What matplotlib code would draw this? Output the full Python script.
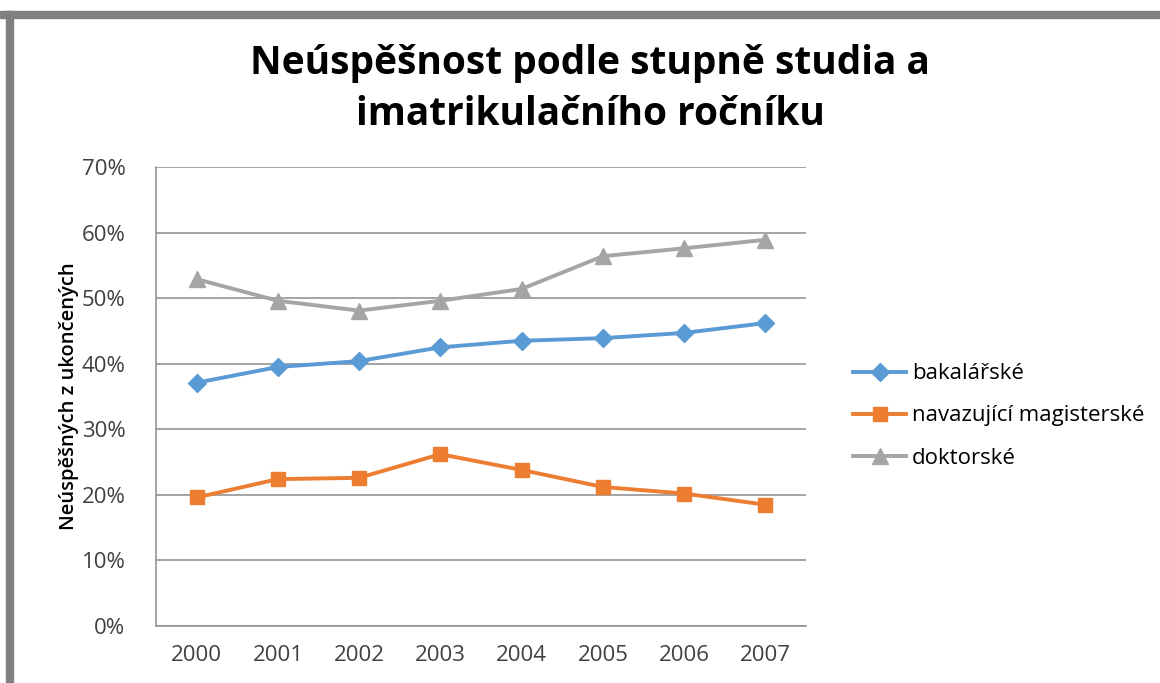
import matplotlib
matplotlib.use("Agg")
import matplotlib.pyplot as plt
from matplotlib.patches import Rectangle
from matplotlib.ticker import PercentFormatter

years = ["2000", "2001", "2002", "2003", "2004", "2005", "2006", "2007"]
bakalarske = [37.1, 39.5, 40.4, 42.5, 43.5, 43.9, 44.7, 46.2]
navazujici = [19.6, 22.4, 22.6, 26.2, 23.8, 21.2, 20.2, 18.5]
doktorske = [52.9, 49.6, 48.1, 49.6, 51.4, 56.4, 57.6, 58.9]
series_names = ["bakalářské", "navazující magisterské", "doktorské"]

plt.rcParams['font.family'] = ['Open Sans', 'DejaVu Sans']

W, H = 1160, 683
fig = plt.figure(figsize=(W / 100, H / 100), dpi=100)

# screenshot frame (top and left)
fig.patches.append(Rectangle((0, 1 - 18 / H), 1, 7 / H, transform=fig.transFigure,
                             color="#808080", zorder=0))
fig.patches.append(Rectangle((6 / W, 0), 7 / W, 1 - 11 / H, transform=fig.transFigure,
                             color="#808080", zorder=0))

left, right, top, bottom = 156, 806, 167, 626
ax = fig.add_axes([left / W, 1 - bottom / H, (right - left) / W, (bottom - top) / H])

x = range(len(years))
ax.plot(x, bakalarske, color="#5b9bd5", lw=2.8, marker="D", ms=9, label=series_names[0])
ax.plot(x, navazujici, color="#ed7d31", lw=2.8, marker="s", ms=10, label=series_names[1])
ax.plot(x, doktorske, color="#a5a5a5", lw=2.8, marker="^", ms=11, label=series_names[2])

ax.set_xlim(-0.5, len(years) - 0.5)
ax.set_ylim(0, 70)
ax.set_yticks(range(0, 71, 10))
ax.yaxis.set_major_formatter(PercentFormatter(decimals=0))
ax.set_xticks(list(x))
ax.set_xticklabels(years)
ax.grid(axis="y", color="#8c8c8c", lw=1.1)
ax.set_axisbelow(True)
for s in ["top", "right"]:
    ax.spines[s].set_visible(False)
for s in ["left", "bottom"]:
    ax.spines[s].set_color("#8c8c8c")
    ax.spines[s].set_linewidth(1.1)
ax.tick_params(axis="both", length=0, labelsize=16, labelcolor="#404040", pad=14)
ax.tick_params(axis="y", pad=22)
ax.set_ylabel("Neúspěšných z ukončených", fontsize=14.5, color="black",
              labelpad=2, fontweight="semibold")

fig.text(590 / W, 1 - 89 / H, "Neúspěšnost podle stupně studia a\nimatrikulačního ročníku",
         ha="center", va="center", fontsize=28, fontweight="bold", linespacing=1.4)

ax.legend(loc="center left", bbox_to_anchor=(833 / W, 1 - 416 / H),
          bbox_transform=fig.transFigure, frameon=False, fontsize=16,
          handlelength=2.4, labelspacing=0.95, handletextpad=0.25)

fig.savefig("out.png", dpi=100)
